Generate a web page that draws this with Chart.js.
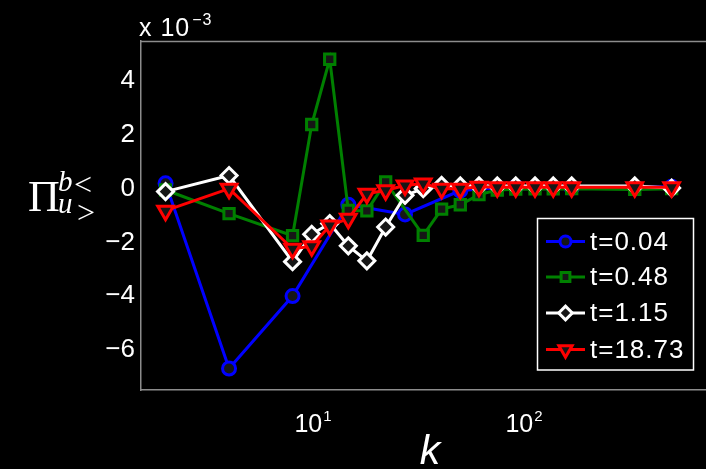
<!DOCTYPE html>
<html>
<head>
<meta charset="utf-8">
<script src="https://cdn.jsdelivr.net/npm/chart.js@4.4.0/dist/chart.umd.min.js"></script>
<style>
  html, body { margin: 0; padding: 0; background: #000; overflow: hidden; }
  /* the axes box runs past the right edge of the view */
  #wrap { width: 706px; height: 469px; position: relative; overflow: hidden; }
  #c { position: absolute; left: 0; top: 0; }
</style>
</head>
<body>
<div id="wrap"><canvas id="c" width="718" height="469"></canvas></div>
<script>
// Transfer spectra Pi_{u>}^{b<}(k), values in units of 1e-3
const kBlue  = [2, 4, 8, 14.7, 27.3, 49.9, 91.4, 168.3, 501];
const piBlue = [0.2, -6.7, -4.0, -0.6, -0.96, -0.07, 0.07, 0.03, 0.07];

const kGreen  = [2, 4, 8, 9.86, 12.0, 14.7, 18.0, 22.1, 33.3, 40.7, 49.9, 61.2, 74.7, 91.4, 112.8, 137.6, 168.3, 335, 501];
const piGreen = [-0.05, -0.93, -1.75, 2.39, 4.82, -0.81, -0.83, 0.25, -1.74, -0.76, -0.6, -0.22, -0.05, -0.02, -0.01, -0.01, 0.0, -0.03, 0.0];

const kWhite  = [2, 4, 8, 9.86, 12.0, 14.7, 18.0, 22.1, 27.3, 33.3, 40.7, 49.9, 61.2, 74.7, 91.4, 112.8, 137.6, 168.3, 335, 501];
const piWhite = [-0.11, 0.49, -2.72, -1.7, -1.3, -2.13, -2.69, -1.43, -0.25, 0.0, 0.12, 0.1, 0.1, 0.1, 0.1, 0.1, 0.1, 0.1, 0.1, 0.02];

const kRed  = [2, 4, 8, 9.86, 12.0, 14.7, 18.0, 22.1, 27.3, 33.3, 40.7, 49.9, 61.2, 74.7, 91.4, 112.8, 137.6, 168.3, 335, 501];
const piRed = [-0.82, 0.0, -2.24, -2.15, -1.37, -1.12, -0.19, -0.06, 0.12, 0.19, 0.0, 0.0, 0.07, 0.05, 0.05, 0.05, 0.05, 0.05, 0.05, 0.05];

const seriesLabels = ['t=0.04', 't=0.48', 't=1.15', 't=18.73'];
const yTicks = [-6, -4, -2, 0, 2, 4];
const xTicks = [10, 100];

const SANS = '"Liberation Sans", Arial, sans-serif';
const SERIF = '"Liberation Serif", "DejaVu Serif", serif';
const MARKER_FILL = '#161616';

function pts(ks, vs) { return ks.map((k, i) => ({ x: k, y: vs[i] })); }

function series(label, ks, vs, color, style, radius, rotation, order) {
  return {
    label, data: pts(ks, vs), order,
    borderColor: color, borderWidth: 3,
    pointStyle: style, pointRadius: radius, pointRotation: rotation,
    pointBorderColor: color, pointBorderWidth: 3, pointBackgroundColor: MARKER_FILL,
    tension: 0, fill: false
  };
}

const datasets = [
  series(seriesLabels[0], kBlue, piBlue, '#0000ff', 'circle', 6.5, 0, 3),
  series(seriesLabels[1], kGreen, piGreen, '#008000', 'rect', 7.3, 0, 2),
  series(seriesLabels[2], kWhite, piWhite, '#ffffff', 'rectRot', 8, 0, 1),
  series(seriesLabels[3], kRed, piRed, '#ff0000', 'triangle', 9, 180, 0)
];

// small marker painter for the legend samples
function marker(ctx, style, x, y, r, rotation) {
  ctx.beginPath();
  if (style === 'circle') {
    ctx.arc(x, y, r, 0, Math.PI * 2);
  } else if (style === 'rect') {
    const s = r * Math.SQRT1_2;
    ctx.rect(x - s, y - s, 2 * s, 2 * s);
  } else if (style === 'rectRot') {
    ctx.moveTo(x - r, y); ctx.lineTo(x, y - r); ctx.lineTo(x + r, y); ctx.lineTo(x, y + r);
    ctx.closePath();
  } else if (style === 'triangle') {
    let a = rotation * Math.PI / 180;
    for (let i = 0; i < 3; i++) {
      const px = x + Math.sin(a) * r, py = y - Math.cos(a) * r;
      if (i === 0) ctx.moveTo(px, py); else ctx.lineTo(px, py);
      a += 2 * Math.PI / 3;
    }
    ctx.closePath();
  }
  ctx.fill();
  ctx.stroke();
}

const decorations = {
  id: 'decorations',
  beforeDatasetsDraw(chart) {
    const { ctx, chartArea: a } = chart;
    ctx.save();
    ctx.strokeStyle = '#8c8c8c';
    ctx.lineWidth = 1.5;
    ctx.beginPath();
    ctx.moveTo(a.left, a.top + 0.5);
    ctx.lineTo(a.right, a.top + 0.5);
    ctx.stroke();
    ctx.restore();
  },
  afterDraw(chart) {
    const { ctx } = chart;
    const xs = chart.scales.x;
    ctx.save();
    ctx.fillStyle = '#ffffff';
    ctx.textBaseline = 'alphabetic';

    // x tick labels 10^n
    xTicks.forEach(v => {
      const px = xs.getPixelForValue(v);
      const base = '10', exp = String(Math.round(Math.log10(v)));
      ctx.font = '25px ' + SANS;
      const wb = ctx.measureText(base).width;
      ctx.font = '15px ' + SANS;
      const we = ctx.measureText(exp).width;
      const x0 = px - (wb + we + 1) / 2;
      ctx.font = '25px ' + SANS;
      ctx.textAlign = 'left';
      ctx.fillText(base, x0, 432);
      ctx.font = '15px ' + SANS;
      ctx.fillText(exp, x0 + wb + 1, 421);
    });

    // multiplier above the y axis
    ctx.textAlign = 'left';
    ctx.letterSpacing = '1px';
    ctx.font = '25px ' + SANS;
    ctx.fillText('x 10', 139, 36);
    const wm = ctx.measureText('x 10').width;
    ctx.font = '16px ' + SANS;
    ctx.fillText('\u22123', 139 + wm + 2, 25);
    ctx.letterSpacing = '0px';

    // x axis title
    ctx.textAlign = 'center';
    ctx.font = 'italic 41px ' + SANS;
    ctx.fillText('k', 430, 464);

    // y axis title
    ctx.textAlign = 'left';
    ctx.font = '44px ' + SERIF;
    ctx.fillText('\u03A0', 28, 211);
    ctx.font = 'italic 29px ' + SERIF;
    ctx.fillText('b', 58, 191);
    ctx.fillText('u', 58, 213);
    ctx.font = '32px ' + SERIF;
    ctx.fillText('<', 74, 195);
    ctx.fillText('>', 77, 223);

    // legend
    const lx = 537.5, ly = 218.5, lw = 156, lh = 151.5;
    ctx.fillStyle = '#000';
    ctx.fillRect(lx, ly, lw, lh);
    ctx.strokeStyle = '#ffffff';
    ctx.lineWidth = 1.5;
    ctx.strokeRect(lx, ly, lw, lh);
    const rows = [241.5, 277, 313, 349.5];
    chart.data.datasets.forEach((ds, i) => {
      const y = rows[i];
      ctx.strokeStyle = ds.borderColor;
      ctx.lineWidth = 3;
      ctx.beginPath();
      ctx.moveTo(546, y);
      ctx.lineTo(585, y);
      ctx.stroke();
      ctx.fillStyle = MARKER_FILL;
      marker(ctx, ds.pointStyle, 565.5, y, ds.pointRadius * 0.85, ds.pointRotation);
      ctx.fillStyle = '#ffffff';
      ctx.font = '26px ' + SANS;
      ctx.letterSpacing = '1px';
      ctx.textAlign = 'left';
      ctx.textBaseline = 'middle';
      ctx.fillText(ds.label, 590, y + 1);
      ctx.letterSpacing = '0px';
    });
    ctx.restore();
  }
};

new Chart(document.getElementById('c'), {
  type: 'line',
  data: { datasets },
  options: {
    responsive: false,
    devicePixelRatio: 1,
    animation: false,
    layout: { padding: { top: 41, left: 0, right: 0, bottom: 0 } },
    plugins: { legend: { display: false }, tooltip: { enabled: false } },
    scales: {
      x: {
        type: 'logarithmic',
        min: 1.53, max: 729,
        grid: { display: false, drawTicks: false },
        border: { display: true, color: '#8c8c8c', width: 1.5 },
        ticks: { display: false },
        afterBuildTicks: s => { s.ticks = xTicks.map(v => ({ value: v })); },
        afterFit: s => { s.height = 79; }
      },
      y: {
        type: 'linear',
        min: -7.5, max: 5.5,
        grid: { display: false, drawTicks: false },
        border: { display: true, color: '#8c8c8c', width: 1.5 },
        ticks: {
          color: '#ffffff',
          font: { family: SANS, size: 26 },
          padding: 6,
          callback: v => (v < 0 ? '\u2212' + (-v) : String(v))
        },
        afterBuildTicks: s => { s.ticks = yTicks.map(v => ({ value: v })); },
        afterFit: s => { s.width = 141; }
      }
    }
  },
  plugins: [decorations]
});
</script>
</body>
</html>
